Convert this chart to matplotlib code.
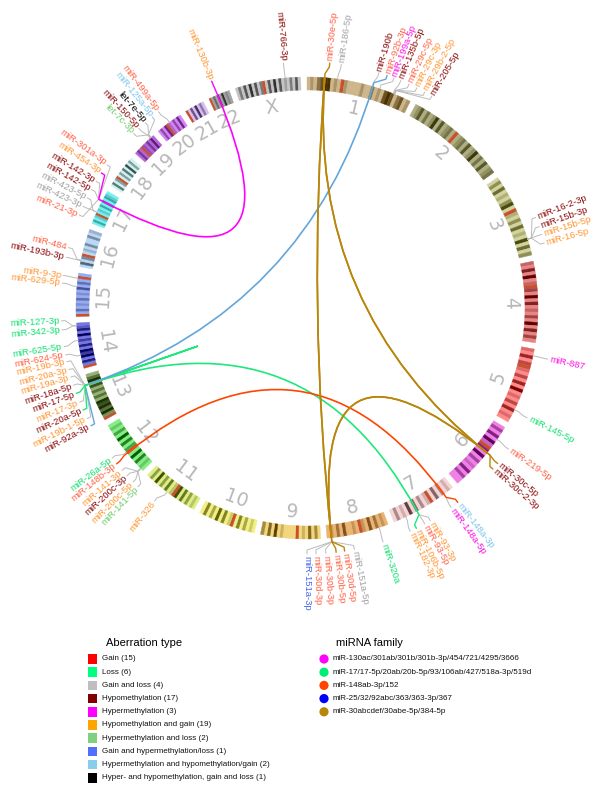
import numpy as np
import matplotlib
matplotlib.use('Agg')
import matplotlib.pyplot as plt
from matplotlib.patches import Polygon, Rectangle, Circle, PathPatch
from matplotlib.path import Path

# ---------------- data ----------------
chrom_names = ['1', '2', '3', '4', '5', '6', '7', '8', '9', '10', '11', '12', '13', '14',
               '15', '16', '17', '18', '19', '20', '21', '22', 'X']
chrom_mb = [249, 243, 198, 191, 181, 171, 159, 146, 141, 136, 135, 133, 115, 107,
            102, 90, 83, 80, 59, 64, 47, 51, 155]
chrom_base = ['#CDB68C', '#AFAE80', '#D2D29C', '#E88484', '#FF8A8A', '#F080E6', '#F4D4D4',
              '#E9B472', '#F2D67C', '#F2F084', '#DDEE84', '#84EE84', '#94B272', '#7676E2',
              '#94ACF0', '#BAD8F6', '#74F0F0', '#D2F0F0', '#B264D8', '#D084F0', '#DABCF0',
              '#A2A2A2', '#C4C4C4']
chrom_dark = ['#4A3000', '#3A3A10', '#4B4B10', '#600000', '#800000', '#600060', '#604040',
              '#603000', '#604000', '#606000', '#405000', '#006000', '#1A3000', '#000060',
              '#303080', '#304050', '#006060', '#305050', '#400060', '#500070', '#403060',
              '#303030', '#303030']
chrom_bands = ['0102344010r10000100201034302301',
               '01302014030120r012030140203012',
               '0203010240r1020301040302',
               '1030401r2040301020403020',
               '10302r1020304010203010',
               '0203041r3040201030200',
               '0102030r102030401020',
               '01020301r0100302010',
               '0203010r00001040302',
               '0102030r1030402030',
               '01020304r1030204020',
               '0103040r2030402010',
               'r1424340202030420',
               'r0304240302040310',
               'r0201020103020r0',
               '0302r010200201',
               '0201r0102030210',
               '0302r020304020',
               '020r102030',
               '0203r102030',
               'r0304020',
               'r020304010',
               '0203040302r0304030102030']

mirna_names = ['miR-766-3p', 'miR-30e-5p', 'miR-186-5p', 'miR-190b', 'miR-92b-3p', 'miR-199a-5p',
               'miR-135b-5p', 'miR-29c-5p', 'miR-29c-3p', 'miR-29b-2-5p', 'miR-205-5p',
               'miR-16-2-3p', 'miR-15b-3p', 'miR-15b-5p', 'miR-16-5p',
               'miR-887', 'miR-145-5p',
               'miR-219-5p', 'miR-30c-5p', 'miR-30c-2-3p',
               'miR-148a-3p', 'miR-148a-5p', 'miR-93-3p', 'miR-93-5p', 'miR-106b-5p', 'miR-182-3p',
               'miR-320a', 'miR-151a-5p', 'miR-30d-5p', 'miR-30b-5p', 'miR-30b-3p', 'miR-30d-3p',
               'miR-151a-3p',
               'miR-326',
               'miR-141-5p', 'miR-200c-5p', 'miR-200c-3p', 'miR-141-3p', 'miR-148b-3p', 'miR-26a-5p',
               'miR-92a-3p', 'miR-19b-1-5p', 'miR-20a-5p', 'miR-17-3p', 'miR-17-5p', 'miR-18a-5p',
               'miR-19a-3p', 'miR-20a-3p', 'miR-19b-3p',
               'miR-624-5p', 'miR-625-5p', 'miR-342-3p', 'miR-127-3p',
               'miR-629-5p', 'miR-9-3p',
               'miR-193b-3p', 'miR-484',
               'miR-21-3p', 'miR-423-3p', 'miR-423-5p', 'miR-142-5p', 'miR-142-3p', 'miR-454-3p',
               'miR-301a-3p',
               'let-7c-3p', 'miR-150-5p', 'let-7e-5p', 'miR-125a-5p', 'miR-499a-5p',
               'miR-130b-3p']
mirna_chrom = ['X', '1', '1', '1', '1', '1', '1', '1', '1', '1', '1',
               '3', '3', '3', '3', '5', '5', '6', '6', '6',
               '7', '7', '7', '7', '7', '7',
               '8', '8', '8', '8', '8', '8', '8', '11',
               '12', '12', '12', '12', '12', '12',
               '13', '13', '13', '13', '13', '13', '13', '13', '13',
               '14', '14', '14', '14', '15', '15', '16', '16',
               '17', '17', '17', '17', '17', '17', '17',
               '19', '19', '19', '19', '20', '22']
mirna_mb = [118.8, 41.2, 71.5, 154.2, 155.2, 172.1, 205.4, 207.9, 207.9, 207.9, 209.6,
            160.1, 160.1, 160.1, 160.1, 15.9, 148.8, 33.2, 72.1, 72.1,
            25.9, 25.9, 99.7, 99.7, 99.7, 129.4,
            22.1, 135.8, 135.8, 135.8, 135.8, 135.8, 135.8, 75.0,
            6.9, 6.9, 6.9, 6.9, 54.7, 57.8,
            91.3, 91.3, 91.3, 91.3, 91.3, 91.3, 91.3, 91.3, 91.3,
            31.5, 66.2, 100.6, 101.3, 70.4, 89.9, 14.4, 15.7,
            57.9, 28.4, 28.4, 56.4, 56.4, 57.2, 57.2,
            50.6, 50.0, 52.2, 52.2, 33.6, 22.0]
mirna_type = [3, 0, 2, 3, 0, 4, 3, 0, 5, 5, 3,
              3, 3, 5, 5, 4, 1, 0, 3, 3,
              8, 4, 5, 0, 5, 5,
              1, 2, 0, 0, 0, 0, 7, 5,
              6, 5, 3, 5, 0, 1,
              3, 5, 3, 5, 3, 3, 5, 5, 5,
              0, 1, 1, 1, 5, 5, 3, 0,
              0, 2, 2, 3, 3, 5, 0,
              6, 3, 9, 8, 0, 5]

aberration_types = ['Gain', 'Loss', 'Gain and loss', 'Hypomethylation', 'Hypermethylation',
                    'Hypomethylation and gain', 'Hypermethylation and loss',
                    'Gain and hypermethylation/loss',
                    'Hypermethylation and hypomethylation/gain',
                    'Hyper- and hypomethylation, gain and loss']
aberration_counts = [15, 6, 4, 17, 3, 19, 2, 1, 2, 1]
aberration_colors = ['#FF0000', '#00FF7F', '#BEBEBE', '#800000', '#FF00FF', '#FFA500',
                     '#7FD17F', '#4F6FFF', '#87CEEB', '#000000']
aberration_text_colors = ['#FF6347', '#12E070', '#A2A2A2', '#8B0A0A', '#FF10E6', '#FF9633',
                          '#70CC70', '#4466EE', '#7EC6EA', '#000000']

family_names = ['miR-130ac/301ab/301b/301b-3p/454/721/4295/3666',
                'miR-17/17-5p/20ab/20b-5p/93/106ab/427/518a-3p/519d',
                'miR-148ab-3p/152',
                'miR-25/32/92abc/363/363-3p/367',
                'miR-30abcdef/30abe-5p/384-5p']
family_colors = ['#FF00FF', '#00EE76', '#FF4500', '#0000FF', '#B8860B']
family_line_colors = ['#FF00FF', '#1EE87A', '#FF4500', '#62A6DC', '#B8860B']

link_a = ['miR-130b-3p', 'miR-17-5p', 'miR-20a-5p', 'miR-148b-3p', 'miR-92b-3p',
          'miR-30e-5p', 'miR-30e-5p', 'miR-30e-5p', 'miR-30e-5p', 'miR-30b-5p', 'miR-30d-5p']
link_b = ['miR-454-3p', 'miR-20a-5p', 'miR-106b-5p', 'miR-148a-3p', 'miR-92a-3p',
          'miR-30b-5p', 'miR-30d-5p', 'miR-30c-5p', 'miR-30c-2-3p', 'miR-30c-5p', 'miR-30c-2-3p']
link_family = [0, 1, 1, 2, 3, 4, 4, 4, 4, 4, 4]

# ---------------- layout (label placement, degrees clockwise from top) ----------------
label_theta = [354.5, 5.3, 8.0, 17.0, 19.0, 20.7, 22.4, 24.5, 26.5, 28.6, 30.5,
               68.4, 70.7, 72.6, 74.7, 102.0, 116.5, 125.0, 129.2, 130.9,
               142.2, 144.1, 149.9, 151.4, 153.6, 155.2,
               162.0, 168.9, 171.2, 173.2, 175.6, 177.9, 180.0, 218.3,
               223.4, 225.0, 227.0, 228.7, 230.7, 232.4,
               241.4, 243.3, 245.5, 247.5, 249.7, 251.7, 253.7, 255.5, 257.4,
               259.0, 261.0, 264.9, 267.0, 275.8, 277.6, 281.9, 284.2,
               292.2, 294.4, 296.6, 298.8, 301.0, 303.3, 305.6,
               315.2, 316.9, 318.9, 321.0, 322.9, 337.2]

FONT = ['Liberation Sans', 'DejaVu Sans']

# ---------------- geometry ----------------
cx, cy = 307.0, 308.0
R_IN, R_OUT = 218.0, 231.0
GAP = 1.58
k = (360.0 - GAP * len(chrom_mb)) / sum(chrom_mb)
chrom_start = {}
acc = 0.0
for i, (nm, L) in enumerate(zip(chrom_names, chrom_mb)):
    chrom_start[nm] = acc * k + i * GAP
    acc += L


def xy(theta, r):
    t = np.radians(theta)
    return cx + r * np.sin(t), cy - r * np.cos(t)


def arc_poly(t1, t2, r1, r2):
    n = max(2, int(abs(t2 - t1) * 3) + 2)
    ts = np.linspace(t1, t2, n)
    pts = [xy(t, r2) for t in ts] + [xy(t, r1) for t in ts[::-1]]
    return pts


def blend(c1, c2, f):
    a = np.array(matplotlib.colors.to_rgb(c1))
    b = np.array(matplotlib.colors.to_rgb(c2))
    return tuple(a * (1 - f) + b * f)


fig = plt.figure(figsize=(6, 7.92), dpi=100)
ax = fig.add_axes([0, 0, 1, 1])
ax.set_xlim(0, 600)
ax.set_ylim(792, 0)
ax.axis('off')

# ideogram
for i, nm in enumerate(chrom_names):
    s = chrom_start[nm]
    span = chrom_mb[i] * k
    bands = chrom_bands[i]
    nb = len(bands)
    for j, ch in enumerate(bands):
        t1 = s + span * j / nb
        t2 = s + span * (j + 1) / nb
        if ch == 'r':
            col = '#C8502C'
        else:
            col = blend(chrom_base[i], chrom_dark[i], int(ch) / 4.0)
        ax.add_patch(Polygon(arc_poly(t1, t2, R_IN, R_OUT), closed=True, facecolor=col,
                             edgecolor=col, lw=0.3, zorder=2))
    mid = s + span / 2
    if 90 < mid < 270:
        rot = 180 - mid
    else:
        rot = -mid
    x, y = xy(mid, 204)
    ax.text(x, y, nm, rotation=rot, ha='center', va='center', fontsize=13.5,
            color='#B8B8B8', zorder=2, family=['DejaVu Sans'])

# genomic angles
gen_theta = [chrom_start[c] + mb * k for c, mb in zip(mirna_chrom, mirna_mb)]
idx = {n: i for i, n in enumerate(mirna_names)}

conn_color = ['#BBBBBB'] * len(mirna_names)
for a, b, f in zip(link_a, link_b, link_family):
    conn_color[idx[a]] = family_line_colors[f]
    conn_color[idx[b]] = family_line_colors[f]

# links
for a, b, f in zip(link_a, link_b, link_family):
    p0 = xy(gen_theta[idx[a]], R_OUT)
    p2 = xy(gen_theta[idx[b]], R_OUT)
    path = Path([p0, (cx, cy), p2], [Path.MOVETO, Path.CURVE3, Path.CURVE3])
    ax.add_patch(PathPatch(path, fill=False, edgecolor=family_line_colors[f], lw=1.2, zorder=4))

# connectors and labels
for i, nm in enumerate(mirna_names):
    tg = gen_theta[i]
    tt = label_theta[i]
    pts = [xy(tg, R_OUT), xy(tg, R_OUT + 4), xy(tt, R_OUT + 11), xy(tt, R_OUT + 15)]
    xs, ys = zip(*pts)
    lw = 1.0 if conn_color[i] != '#BBBBBB' else 0.7
    ax.plot(xs, ys, color=conn_color[i], lw=lw, zorder=3 if lw < 1 else 5,
            solid_capstyle='round')
    x, y = xy(tt, R_OUT + 17)
    if tt <= 180:
        rot, ha = 90 - tt, 'left'
    else:
        rot, ha = 270 - tt, 'right'
    ax.text(x, y, nm, rotation=rot, rotation_mode='anchor', ha=ha, va='center',
            fontsize=6.8, color=aberration_text_colors[mirna_type[i]], family=FONT,
            zorder=6)

# legends
ax.text(106, 643, 'Aberration type', fontsize=8, va='center', ha='left', family=FONT)
for i, (t, c, n) in enumerate(zip(aberration_types, aberration_colors, aberration_counts)):
    y = 659 + 13.2 * i
    ax.add_patch(Rectangle((87.5, y - 4.8), 9.6, 9.6, facecolor=c, edgecolor='none'))
    ax.text(102, y, '%s (%d)' % (t, n), fontsize=5.8, va='center', ha='left', family=FONT,
            color='#111111')

ax.text(336, 643, 'miRNA family', fontsize=8, va='center', ha='left', family=FONT)
for i, (t, c) in enumerate(zip(family_names, family_colors)):
    y = 659 + 13.2 * i
    ax.add_patch(Circle((324, y), 4.6, facecolor=c, edgecolor='none'))
    ax.text(333, y, t, fontsize=5.8, va='center', ha='left', family=FONT, color='#111111')

fig.savefig('out.png', dpi=100)
